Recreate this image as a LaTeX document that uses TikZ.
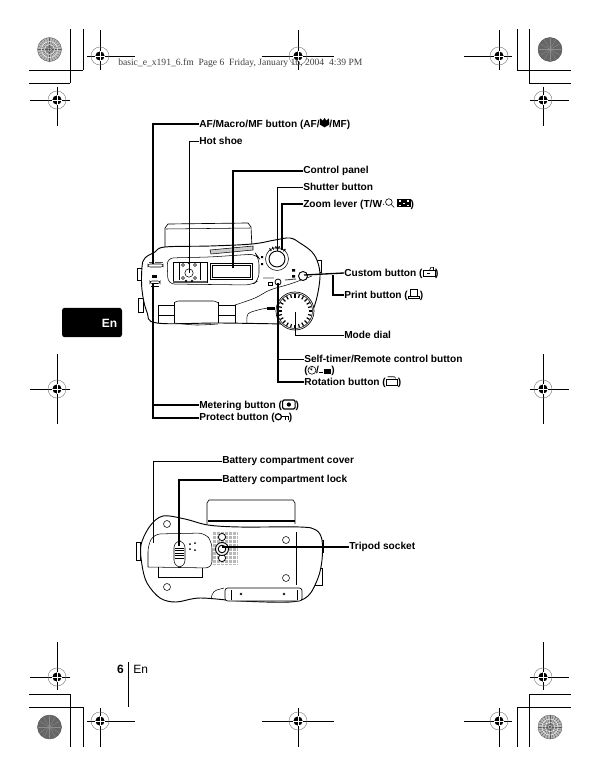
\documentclass[tikz,border=0pt]{standalone}
\usepackage{fontspec}
\setmainfont{Liberation Sans}
\newfontfamily\headerfont{Liberation Serif}
\usepackage{xcolor}
\usetikzlibrary{arrows.meta, positioning}
\definecolor{cropGray}{gray}{0.45}
\colorlet{rosette dark}{black!60}
\colorlet{rosette light}{black!28}
\tikzset{
    callout/.style={anchor=west, inner sep=0pt, font=\fontsize{7.6}{9}\selectfont\bfseries},
    leaderthick/.style={draw=black, line width=1pt},
    leadermid/.style={draw=black, line width=0.8pt},
    leaderthin/.style={draw=black, line width=0.55pt},
    cropline/.style={draw=black, line width=0.75pt},
    body/.style={draw=black, line width=0.5pt, fill=white},
    fineline/.style={draw=black, line width=0.4pt},
    inlineicon/.style={x=1pt, y=1pt, baseline=0pt, line width=0.45pt}
}
% little symbols inside the labels
\newcommand{\flowericon}{\tikz[inlineicon, x=1.35pt, y=1.2pt]{\fill (3,0.4) -- (0.3,2.2) -- (0.6,6) -- (2,4.6) -- (3,6.3) -- (4,4.6) -- (5.4,6) -- (5.7,2.2) -- cycle;}}
\newcommand{\zoomicon}{\tikz[inlineicon]{\draw (3,4) circle (2.5); \draw (4.8,2.2) -- (7,0);}}
\newcommand{\gridicon}{\tikz[inlineicon]{\fill (0,0) rectangle (10,6.5); \foreach \cx/\cy in {1/1,7.2/1,4/2.5,1/4.2,7.2/4.2} {\fill[white] (\cx,\cy) rectangle +(1.8,1.2);}}}
\newcommand{\customicon}{\tikz[inlineicon]{\draw (0,0) rectangle (9,4.8); \draw (5,4.8) -- (6,7) -- (8,7) -- (8,4.8); \fill (3.4,2) rectangle +(2,0.8);}}
\newcommand{\printicon}{\tikz[inlineicon]{\draw (1.8,2) rectangle (6.8,7); \draw (0,2) rectangle (8.6,0);}}
\newcommand{\timericon}{\tikz[inlineicon]{\draw (3.4,2.8) circle (3); \draw (3.4,5.8) -- (3.4,2.8) -- (1.6,4.4);}}
\newcommand{\remoteicon}{\tikz[inlineicon]{\draw (0,1.5) -- (2.4,1.5); \fill (3.4,0) rectangle (9,3.4);}}
\newcommand{\rotationicon}{\tikz[inlineicon]{\draw (0,0) rectangle (8.6,4.6); \draw (1,6.6) -- (6,6.6) -- (7.2,5.4);}}
\newcommand{\metericon}{\tikz[inlineicon]{\draw[line width=0.9pt, rounded corners=1pt] (0,-0.5) rectangle (9.4,6.2); \fill (4.7,2.85) circle (1.6);}}
\newcommand{\keyicon}{\tikz[inlineicon]{\draw[line width=0.9pt] (2.5,3) circle (2.3); \draw[line width=0.9pt] (4.8,3) -- (10,3) -- (10,0.6) (8,3) -- (8,0.6);}}
% printer's marks
\newcommand{\target}[2]{
    \draw[draw=cropGray, line width=0.3pt] (#1,#2) circle (9);
    \fill (#1,#2) circle (4.6);
    \draw[white, line width=0.3pt] (#1-4.6,#2) -- (#1+4.6,#2) (#1,#2-4.6) -- (#1,#2+4.6);
}
\newcommand{\rosettelight}[2]{
    \fill[rosette light] (#1,#2) circle (12);
    \foreach \a in {0,15,...,345} {\draw[black!65, line width=0.25pt] (#1,#2) ++(\a:2) -- +(\a:10);}
    \draw[white, line width=0.3pt] (#1,#2) circle (8) (#1,#2) circle (5);
    \draw[black!60, line width=0.3pt] (#1,#2) circle (12);
    \fill[black!75] (#1,#2) circle (1.2);
}
\newcommand{\rosettedark}[2]{
    \fill[rosette dark] (#1,#2) circle (12);
    \foreach \a in {0,30,...,330} {\draw[black!45, line width=0.25pt] (#1,#2) -- +(\a:12);}
    \draw[black!70, line width=0.3pt] (#1,#2) circle (12);
}

\begin{document}
\begin{tikzpicture}[x=0.75pt, y=-0.75pt]
    \useasboundingbox (0,0) rectangle (600,778);

    % corners
    \draw[cropline] (70,29) -- (70,83) (83,29) -- (83,70) (29,70) -- (83,70) (29,83) -- (70,83);
    \draw[cropline] (517,29) -- (517,70) (529,29) -- (529,83) (517,70) -- (571,70) (529,83) -- (571,83);
    \draw[cropline] (70,694) -- (70,747) (83,707) -- (83,747) (29,694) -- (70,694) (29,707) -- (83,707);
    \draw[cropline] (517,707) -- (517,747) (529,694) -- (529,747) (529,694) -- (571,694) (517,707) -- (571,707);

    \rosettelight{49.5}{49.5}
    \rosettedark{550}{49.5}
    \rosettedark{49.5}{727}
    \rosettelight{550}{727}

    % crosshairs
    \draw[cropline] (87,56) -- (135,56) (100,30) -- (100,70);
    \draw[cropline] (262,56) -- (334,56) (298,30) -- (298,70);
    \draw[cropline] (464,56) -- (512,56) (499,30) -- (499,70);
    \draw[cropline] (30,100) -- (70,100) (57,87) -- (57,126);
    \draw[cropline] (530,100) -- (569,100) (543,87) -- (543,126);
    \draw[cropline] (30,389) -- (70,389) (57,354) -- (57,424);
    \draw[cropline] (530,389) -- (569,389) (543,354) -- (543,424);
    \draw[cropline] (30,677) -- (70,677) (57,642) -- (57,690);
    \draw[cropline] (530,677) -- (569,677) (543,642) -- (543,690);
    \draw[cropline] (87,721) -- (135,721) (100,708) -- (100,747);
    \draw[cropline] (262,721) -- (334,721) (298,708) -- (298,747);
    \draw[cropline] (464,721) -- (512,721) (499,708) -- (499,747);
    \target{100}{56} \target{298}{56} \target{499}{56}
    \target{57}{100} \target{543}{100}
    \target{57}{389} \target{543}{389}
    \target{57}{677} \target{543}{677}
    \target{100}{721} \target{298}{721} \target{499}{721}

    \node[anchor=west, inner sep=0pt, text=black!75, font=\headerfont\fontsize{7.2}{9}\selectfont] (header) at (118,63)
        {basic\_e\_x191\_6.fm\ \ Page 6\ \ Friday, January 16, 2004\ \ 4:39 PM};

    % tab and page number
    \node[fill=black, rounded corners=2pt, minimum width=45pt, minimum height=22pt, inner sep=0pt] (tab) at (92,322.5) {};
    \node[anchor=east, inner sep=0pt, text=white, font=\fontsize{9}{10}\selectfont\bfseries] (tabtext) at (117.5,323) {En};
    \node[anchor=east, inner sep=0pt, font=\fontsize{9}{10}\selectfont\bfseries] (pagenum) at (124,669) {6};
    \node[anchor=west, inner sep=0pt, font=\fontsize{9}{10}\selectfont] (pagelang) at (133,669) {En};
    \draw[line width=0.6pt] (128,662) -- (128,707);

    % top view of the camera
    \draw[body] (165,250) -- (165,228) -- (168,224) -- (248,223) -- (251,227) -- (252,248);
    \draw[fineline] (166,229) -- (250,228);
    \draw[body] (137,268) rectangle (142,280);
    \draw[body] (138,298) rectangle (143,312);
    \draw[body] (317,260) rectangle (321,272);
    \draw[body, line width=0.7pt] plot[smooth cycle, tension=0.6] coordinates {(142,267) (145,258) (155,252) (165,247) (210,246) (252,244) (275,240) (290,238) (300,243) (312,252) (318,263) (320,277) (317,297) (312,312) (305,323) (292,324) (220,323) (157,323) (147,312) (142,290)};
    \draw[fineline, fill=black!20] (210,250) -- (253,246) -- (253,250) -- (211,254) -- cycle;
    \draw[fineline, rounded corners=5pt] (167,258) -- (210,257) -- (256,254) -- (259,258) -- (259,280) -- (252,285) -- (168,284) -- cycle;
    % buttons on the left
    \draw[fineline, rounded corners=1.5pt] (148,264) rectangle (163,267);
    \draw[line width=0.7pt, black!70] (149,262) -- (153,262) (155,262) -- (163,262);
    \draw[fineline, rounded corners=1.5pt] (150,281) rectangle (160,283.5);
    \fill (152,275) rectangle (157,278);
    \draw[fineline] (151,286) -- (159,286);
    % hot shoe
    \draw[fineline] (173,262) rectangle (207,282);
    \fill[black!65] (173,280.5) rectangle (207,283);
    \draw[fineline] (179,263) -- (179,280) (200,263) -- (200,280);
    \draw[fineline] (189,273) circle (4.2);
    \draw[fineline] (183,265) circle (1.4) (189,263) circle (1) (195,265) circle (1.4) (183,278) circle (1.6) (195,278) circle (1.6) (186,281) circle (1) (192,281) circle (1);
    % panel
    \draw[fineline] (210,263) rectangle (252,279);
    \draw[fineline] (212.5,265) rectangle (250,277);
    % lower edge
    \draw[fineline] (158,305) -- (175,305) (218,305) -- (235,305) (158,315) -- (174,315) (218,315) -- (235,315);
    \draw[fineline] (158,305) -- (158,323) (174,302) -- (174,323) (218,302) -- (218,323) (235,305) -- (235,323);
    \draw[fineline, rounded corners=2pt] (174,303) -- (176,301) -- (216,301) -- (218,303);
    \draw[fineline] plot[smooth, tension=0.5] coordinates {(174,323) (196,325) (218,324)};
    \draw[fineline] plot[smooth, tension=0.6] coordinates {(247,323) (248,314) (258,310) (268,308)};
    \draw[fineline] plot[smooth, tension=0.6] coordinates {(235,305) (255,298) (270,290) (290,284) (312,276)};
    \fill (267,307) rectangle (275,309.5);
    % shutter and dial
    \draw[fineline, line width=0.7pt] (277,259) circle (8);
    \draw[fineline] (277,259) circle (11.5);
    \foreach \a in {-125,-110,...,-45} {\draw[line width=0.8pt] (277,259) ++(\a:10) -- ++(\a:3);}
    \fill (261,256) rectangle (263,258) (261,263) rectangle (263,265);
    \draw[fineline, line width=0.6pt] (278,282) circle (3);
    \draw[line width=0.7pt, black!70] (263,278) -- (274,278) (285,280) -- (296,279);
    \draw[fineline] (268,282) rectangle (272,285);
    \draw[body, line width=0.7pt] (303,276) circle (4.5);
    \fill (292,269) rectangle (295,271.5) (292,275) rectangle (295,277.5);
    \draw[body] (295,311) circle (19);
    \foreach \a in {0,15,...,345} {\draw[line width=0.9pt] (295,311) ++(\a:13.5) -- ++(\a:3.5);}
    \draw[fineline] (295,311) circle (17.5);

    % bottom view of the camera
    \draw[body] (207,524) -- (207,503) -- (209,500) -- (293,500) -- (295,503) -- (295,524);
    \draw[line width=1pt] (208,521) -- (295,521);
    \draw[body] (136,542) rectangle (140,560);
    \draw[body] (320,540) rectangle (323,552);
    \draw[body] (315,568) rectangle (322,585);
    \draw[body, line width=0.7pt] plot[smooth cycle, tension=0.55] coordinates {(141,545) (150,526) (163,516) (185,519) (208,525) (240,527) (300,527) (316,530) (322,540) (322,560) (318,578) (308,596) (290,602) (240,601) (200,598) (176,602) (160,598) (147,583) (142,565)};
    \draw[fineline, rounded corners=5pt] (148,567) -- (148,545) -- (154,534) -- (205,533) -- (212,542) -- (212,568) -- (148,567);
    \draw[fineline] (158,567) -- (158,577) -- (202,577) -- (202,568);
    \draw[fineline, rounded corners=5pt] (174,541) rectangle (185,567);
    \foreach \ly in {548,550.5,...,560} {\draw[fineline] (175,\ly) -- (184,\ly);}
    \fill (190,544) circle (1) (195,543) circle (1) (190,549) circle (1) (195,550) circle (1);
    % tripod plate
    \fill[black!28] (213,532) rectangle (238,565);
    \foreach \ly in {535,539,...,563} {\draw[white, line width=0.4pt] (213,\ly) -- (238,\ly);}
    \foreach \lx in {216,220,...,236} {\draw[white, line width=0.4pt] (\lx,532) -- (\lx,565);}
    \draw[body, line width=0.6pt] (222,537) circle (3.6);
    \draw[body, line width=0.6pt] (222,558) circle (3.6);
    \draw[body, line width=0.7pt] (222,549) circle (6.5);
    \draw[fineline, line width=0.7pt] (222,549) circle (3.8);
    \draw[fineline] (167,524) circle (3.5) (286,540) circle (3.5) (286,578) circle (3.5) (167,587) circle (3.5);
    \draw[fineline] (296,532) -- (296,585);
    \draw[body, rounded corners=2pt] (225,588) rectangle (302,601);
    \draw[fineline] (231,590) -- (231,600) (297,590) -- (297,600);
    \draw[fineline] (241,594) circle (1) (284,594) circle (1);
    \draw[fineline, rounded corners=3pt] (211,599) -- (213,591) -- (224,588);

    % points on the cameras
    \coordinate (afpt) at (153,264);
    \coordinate (shoept) at (189,273);
    \coordinate (panelpt) at (233,268);
    \coordinate (shutterpt) at (277,251);
    \coordinate (zoompt) at (282,250);
    \coordinate (custompt) at (304,275);
    \coordinate (printpt) at (333,275);
    \coordinate (dialpt) at (295,312);
    \coordinate (timerpt) at (278,283);
    \coordinate (meterpt) at (153,283);
    \coordinate (coverpt) at (153,543);
    \coordinate (lockpt) at (179,546);
    \coordinate (socketpt) at (222,547);

    % labels
    \node[callout] (af) at (199,124) {AF/Macro/MF button (AF/\flowericon/MF)};
    \node[callout] (hotshoe) at (199,141) {Hot shoe};
    \node[callout] (panel) at (303,171) {Control panel};
    \node[callout] (shutter) at (303,187) {Shutter button};
    \node[callout] (zoomlever) at (303,204) {Zoom lever (T/W$\cdot$\zoomicon\ \gridicon)};
    \node[callout] (custom) at (344,273) {Custom button (\customicon)};
    \node[callout] (print) at (344,295) {Print button (\printicon)};
    \node[callout] (dial) at (344,335) {Mode dial};
    \node[callout] (timer) at (304,359) {Self-timer/Remote control button};
    \node[callout] (timericons) at (304,371) {(\timericon/\remoteicon)};
    \node[callout] (rotation) at (304,382) {Rotation button (\rotationicon)};
    \node[callout] (metering) at (199,405) {Metering button (\metericon)};
    \node[callout] (protect) at (199,418) {Protect button (\keyicon)};
    \node[callout] (cover) at (222,461) {Battery compartment cover};
    \node[callout] (lock) at (222,480) {Battery compartment lock};
    \node[callout] (socket) at (349,547) {Tripod socket};

    % leaders
    \draw[leadermid] (af.west) -| (afpt);
    \draw[leaderthin] (hotshoe.west) -| (shoept);
    \draw[leaderthick] (panel.west) -| (panelpt);
    \draw[leaderthin] (shutter.west) -| (shutterpt);
    \draw[leaderthick] (zoomlever.west) -| (zoompt);
    \draw[leaderthick] (custom.west) -- (custompt);
    \draw[leaderthick] (print.west) -| (printpt);
    \draw[leaderthin] (dial.west) -| (dialpt);
    \draw[leaderthin] (timer.west) -| (timerpt);
    \draw[leaderthick] (rotation.west) -| (timerpt);
    \draw[leadermid] (metering.west) -| (meterpt);
    \draw[leadermid] (protect.west) -| (meterpt);
    \draw[leaderthin] (cover.west) -| (coverpt);
    \draw[leaderthick] (lock.west) -| (lockpt);
    \draw[leaderthick] (socket.west) -- (socketpt);
\end{tikzpicture}
\end{document}
